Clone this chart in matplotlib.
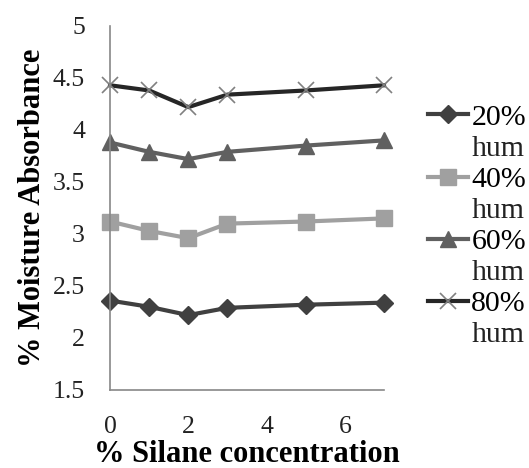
import matplotlib.pyplot as plt
from matplotlib.transforms import IdentityTransform

# dados
silane = [0, 1, 2, 3, 5, 7]
hum20 = [2.36, 2.30, 2.22, 2.29, 2.32, 2.34]
hum40 = [3.12, 3.03, 2.96, 3.10, 3.12, 3.15]
hum60 = [3.88, 3.79, 3.72, 3.79, 3.85, 3.90]
hum80 = [4.43, 4.38, 4.22, 4.34, 4.38, 4.43]
labels = ['20%', '40%', '60%', '80%']
sublabel = 'hum'

plt.rcParams['font.family'] = ['Liberation Serif', 'DejaVu Serif']

fig = plt.figure(figsize=(5.29, 4.68), dpi=100)
ax = fig.add_axes([110/529, 1 - 390/468, 274/529, 364/468])

ax.plot(silane, hum20, color='#404040', lw=3, marker='D', ms=9, label=labels[0])
ax.plot(silane, hum40, color='#a0a0a0', lw=3, marker='s', ms=12, label=labels[1])
ax.plot(silane, hum60, color='#606060', lw=3, marker='^', ms=12, label=labels[2])
ax.plot(silane, hum80, color='#262626', lw=3, marker='x', ms=12, mew=1.2,
        mec='#808080', label=labels[3])

ax.set_xlim(0, 7)
ax.set_ylim(1.5, 5)
ax.set_xticks([0, 2, 4, 6])
ax.set_yticks([1.5, 2, 2.5, 3, 3.5, 4, 4.5, 5])
ax.set_yticklabels(['1.5', '2', '2.5', '3', '3.5', '4', '4.5', '5'])
ax.tick_params(length=0, labelsize=18.5, colors='#222222')
ax.tick_params(axis='y', pad=18)
ax.tick_params(axis='x', pad=19)
for s in ['top', 'right']:
    ax.spines[s].set_visible(False)
for s in ['left', 'bottom']:
    ax.spines[s].set_color('#888888')
    ax.spines[s].set_linewidth(1.2)
for l in ax.lines:
    l.set_clip_on(False)

ax.set_xlabel('% Silane concentration', fontsize=22, fontweight='bold', labelpad=1)
ax.set_ylabel('% Moisture Absorbance', fontsize=22, fontweight='bold', labelpad=4)

fs_leg = 21.5
leg = fig.legend(loc='upper left', bbox_to_anchor=(428/529, 1 - 104/468), frameon=False,
                 fontsize=fs_leg, handlelength=1.35, handletextpad=0.1, labelspacing=1.18,
                 borderaxespad=0, borderpad=0)

# segunda linha ("hum") de cada item da legenda
fig.canvas.draw()
for t in leg.get_texts():
    bb = t.get_window_extent()
    fig.text(bb.x0, bb.y0 - 25, sublabel, fontsize=fs_leg, va='baseline', ha='left',
             color='#222222', transform=IdentityTransform())

plt.savefig('out.png', dpi=100)
